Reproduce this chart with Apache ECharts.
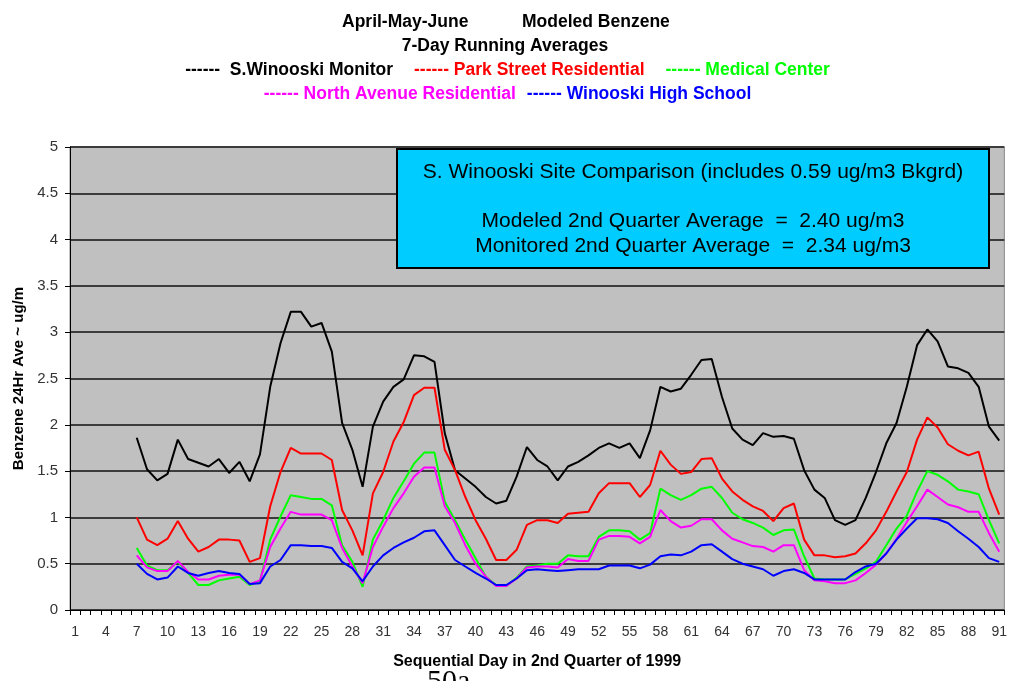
<!DOCTYPE html>
<html>
<head>
<meta charset="utf-8">
<script src="https://cdn.jsdelivr.net/npm/echarts@6/dist/echarts.min.js"></script>
<style>
  html, body { margin: 0; padding: 0; background: #ffffff; }
  #chart { width: 1010px; height: 681px; }
</style>
</head>
<body>
<div id="chart"></div>
<script>
// Sequential days of the 2nd quarter (April 1 = day 1)
const days = [];
for (let d = 1; d <= 91; d++) days.push(String(d));

const yTicks = [0, 0.5, 1, 1.5, 2, 2.5, 3, 3.5, 4, 4.5, 5];

// 7-day running averages of benzene (ug/m3); averages start on day 7
const sWinooskiMonitor = [
  null, null, null, null, null, null,
  1.86, 1.52, 1.40, 1.47, 1.84, 1.63, 1.59, 1.55, 1.63, 1.48,
  1.60, 1.39, 1.68, 2.41, 2.88, 3.22, 3.22, 3.06, 3.10, 2.79,
  2.02, 1.73, 1.33, 1.98, 2.25, 2.41, 2.49, 2.75, 2.74, 2.68,
  1.91, 1.51, 1.42, 1.33, 1.22, 1.15, 1.18, 1.44, 1.76, 1.62,
  1.55, 1.40, 1.55, 1.60, 1.67, 1.75, 1.80, 1.75, 1.80, 1.64,
  1.94, 2.41, 2.36, 2.39, 2.54, 2.70, 2.71, 2.30, 1.96, 1.84,
  1.78, 1.91, 1.87, 1.88, 1.85, 1.51, 1.30, 1.21, 0.97, 0.92,
  0.97, 1.21, 1.49, 1.80, 2.02, 2.41, 2.86, 3.03, 2.90, 2.63,
  2.61, 2.56, 2.41, 1.98, 1.83
];

const parkStreetResidential = [
  null, null, null, null, null, null,
  1.00, 0.76, 0.70, 0.77, 0.96, 0.77, 0.63, 0.68, 0.76, 0.76,
  0.75, 0.52, 0.56, 1.12, 1.49, 1.75, 1.69, 1.69, 1.69, 1.62,
  1.08, 0.86, 0.59, 1.26, 1.49, 1.82, 2.03, 2.32, 2.40, 2.40,
  1.73, 1.51, 1.22, 0.97, 0.77, 0.54, 0.54, 0.65, 0.92, 0.97,
  0.97, 0.94, 1.04, 1.05, 1.06, 1.26, 1.37, 1.37, 1.37, 1.22,
  1.35, 1.72, 1.57, 1.47, 1.49, 1.63, 1.64, 1.42, 1.28, 1.19,
  1.12, 1.07, 0.96, 1.10, 1.15, 0.76, 0.59, 0.59, 0.57, 0.58,
  0.61, 0.72, 0.86, 1.06, 1.28, 1.49, 1.84, 2.08, 1.97, 1.79,
  1.72, 1.67, 1.71, 1.31, 1.03
];

const medicalCenter = [
  null, null, null, null, null, null,
  0.67, 0.48, 0.43, 0.43, 0.52, 0.40, 0.27, 0.27, 0.32, 0.34,
  0.36, 0.27, 0.31, 0.76, 1.01, 1.24, 1.22, 1.20, 1.20, 1.13,
  0.70, 0.52, 0.25, 0.76, 0.97, 1.21, 1.39, 1.58, 1.70, 1.70,
  1.17, 0.97, 0.76, 0.56, 0.36, 0.27, 0.26, 0.35, 0.47, 0.48,
  0.50, 0.50, 0.59, 0.58, 0.58, 0.79, 0.86, 0.86, 0.85, 0.76,
  0.83, 1.31, 1.24, 1.19, 1.24, 1.31, 1.33, 1.21, 1.05, 0.98,
  0.94, 0.89, 0.81, 0.86, 0.87, 0.58, 0.34, 0.33, 0.33, 0.33,
  0.39, 0.45, 0.52, 0.70, 0.88, 1.02, 1.28, 1.50, 1.46, 1.39,
  1.30, 1.28, 1.25, 0.97, 0.72
];

const northAvenueResidential = [
  null, null, null, null, null, null,
  0.59, 0.46, 0.42, 0.42, 0.53, 0.41, 0.33, 0.33, 0.37, 0.38,
  0.38, 0.28, 0.32, 0.68, 0.88, 1.06, 1.03, 1.03, 1.03, 0.97,
  0.67, 0.47, 0.29, 0.68, 0.90, 1.10, 1.26, 1.44, 1.54, 1.54,
  1.12, 0.94, 0.70, 0.50, 0.36, 0.26, 0.26, 0.34, 0.46, 0.47,
  0.47, 0.46, 0.55, 0.53, 0.53, 0.76, 0.80, 0.80, 0.79, 0.72,
  0.79, 1.08, 0.96, 0.89, 0.91, 0.98, 0.98, 0.86, 0.77, 0.73,
  0.69, 0.68, 0.63, 0.70, 0.70, 0.43, 0.32, 0.31, 0.29, 0.29,
  0.32, 0.40, 0.49, 0.61, 0.77, 0.95, 1.12, 1.30, 1.22, 1.14,
  1.11, 1.06, 1.06, 0.83, 0.63
];

const winooskiHighSchool = [
  null, null, null, null, null, null,
  0.50, 0.39, 0.33, 0.35, 0.47, 0.40, 0.37, 0.40, 0.42, 0.40,
  0.39, 0.28, 0.29, 0.47, 0.54, 0.70, 0.70, 0.69, 0.69, 0.67,
  0.52, 0.45, 0.31, 0.47, 0.59, 0.67, 0.73, 0.78, 0.85, 0.86,
  0.70, 0.54, 0.47, 0.40, 0.34, 0.27, 0.27, 0.34, 0.43, 0.44,
  0.43, 0.42, 0.43, 0.44, 0.44, 0.44, 0.48, 0.48, 0.48, 0.45,
  0.49, 0.58, 0.60, 0.59, 0.63, 0.70, 0.71, 0.63, 0.55, 0.50,
  0.47, 0.44, 0.37, 0.42, 0.44, 0.40, 0.33, 0.33, 0.33, 0.33,
  0.41, 0.47, 0.50, 0.61, 0.76, 0.88, 0.99, 0.99, 0.98, 0.94,
  0.85, 0.77, 0.68, 0.56, 0.52
];

const seriesNames = [
  'S.Winooski Monitor',
  'Park Street Residential',
  'Medical Center',
  'North Avenue Residential',
  'Winooski High School'
];
const seriesColors = ['#000000', '#ff0000', '#00ff00', '#ff00ff', '#0000ff'];
const seriesData = [
  sWinooskiMonitor, parkStreetResidential, medicalCenter,
  northAvenueResidential, winooskiHighSchool
];

const sansFont = '"Liberation Sans", Arial, sans-serif';
const headFont = { fontFamily: sansFont, fontWeight: 'bold', fontSize: 17.5, color: '#000' };
const boxFont = '21px "Liberation Sans", Arial, sans-serif';

function legendItems(indices) {
  return indices.map(i => ({
    name: seriesNames[i],
    textStyle: { color: seriesColors[i] }
  }));
}

const chart = echarts.init(document.getElementById('chart'), null, { renderer: 'canvas' });

chart.setOption({
  backgroundColor: '#ffffff',
  animation: false,
  title: [
    { text: 'April-May-June', left: 337, top: 8, textStyle: headFont },
    { text: 'Modeled Benzene', left: 517, top: 8, textStyle: headFont },
    { text: '7-Day Running Averages', left: 'center', top: 32, textStyle: headFont }
  ],
  legend: [
    {
      data: legendItems([0, 1, 2]),
      top: 56, left: 'center',
      icon: 'rect', itemWidth: 0, itemHeight: 0, itemGap: 16,
      formatter: name => (name === seriesNames[0] ? '------  ' : '------ ') + name,
      textStyle: { fontFamily: sansFont, fontWeight: 'bold', fontSize: 17.5 },
      selectedMode: false
    },
    {
      data: legendItems([3, 4]),
      top: 80, left: 'center',
      icon: 'rect', itemWidth: 0, itemHeight: 0, itemGap: 6,
      formatter: name => '------ ' + name,
      textStyle: { fontFamily: sansFont, fontWeight: 'bold', fontSize: 17.5 },
      selectedMode: false
    }
  ],
  grid: {
    left: 70, right: 5, top: 147, bottom: 71,
    show: true, backgroundColor: '#c0c0c0', borderColor: '#888888', borderWidth: 1
  },
  xAxis: {
    type: 'category',
    data: days,
    boundaryGap: true,
    name: 'Sequential Day in 2nd Quarter of 1999',
    nameLocation: 'middle',
    nameGap: 44,
    nameTextStyle: { fontFamily: sansFont, fontWeight: 'bold', fontSize: 16, color: '#000' },
    axisLine: { lineStyle: { color: '#000', width: 1 } },
    axisTick: { show: true, interval: 0, length: 5, lineStyle: { color: '#000' } },
    axisLabel: { interval: 2, margin: 15, fontFamily: sansFont, fontSize: 14, color: '#333' },
    splitLine: { show: false }
  },
  yAxis: {
    type: 'value',
    min: yTicks[0],
    max: yTicks[yTicks.length - 1],
    interval: 0.5,
    name: 'Benzene 24Hr Ave ~ ug/m',
    nameLocation: 'middle',
    nameGap: 44,
    nameTextStyle: { fontFamily: sansFont, fontWeight: 'bold', fontSize: 15, color: '#000' },
    axisLine: { show: true, lineStyle: { color: '#000', width: 1 } },
    axisTick: { show: true, length: 5, lineStyle: { color: '#000' } },
    axisLabel: { margin: 12, fontFamily: sansFont, fontSize: 15, color: '#333',
      formatter: v => String(v) },
    splitLine: { show: true, lineStyle: { color: '#3c3c3c', width: 2 } }
  },
  series: seriesNames.map((name, i) => ({
    name: name,
    type: 'line',
    data: seriesData[i],
    showSymbol: false,
    symbol: 'none',
    connectNulls: false,
    lineStyle: { color: seriesColors[i], width: 2 },
    itemStyle: { color: seriesColors[i] },
    z: 3 + i
  })),
  graphic: [
    {
      type: 'group',
      left: 396, top: 148,
      z: 100,
      children: [
        { type: 'rect', z: 100, shape: { x: 0, y: 0, width: 592, height: 119 },
          style: { fill: '#00ccff', stroke: '#000', lineWidth: 2 } },
        { type: 'text', z: 101, x: 296, y: 23,
          style: { text: 'S. Winooski Site Comparison (includes 0.59 ug/m3 Bkgrd)',
            font: boxFont, fill: '#000', align: 'center', verticalAlign: 'middle' } },
        { type: 'text', z: 101, x: 296, y: 72,
          style: { text: 'Modeled 2nd Quarter Average  =  2.40 ug/m3',
            font: boxFont, fill: '#000', align: 'center', verticalAlign: 'middle' } },
        { type: 'text', z: 101, x: 296, y: 97,
          style: { text: 'Monitored 2nd Quarter Average  =  2.34 ug/m3',
            font: boxFont, fill: '#000', align: 'center', verticalAlign: 'middle' } }
      ]
    },
    {
      type: 'text', left: 427, top: 667, z: 100,
      style: { text: '50a', font: '30px "Liberation Serif", "Times New Roman", serif', fill: '#000' }
    }
  ]
});
</script>
</body>
</html>
